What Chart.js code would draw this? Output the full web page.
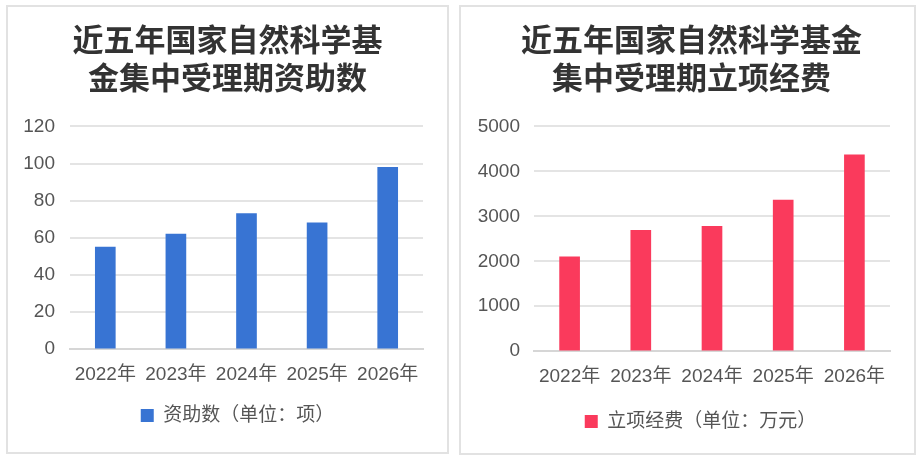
<!DOCTYPE html>
<html>
<head>
    <meta charset="utf-8">
    <title>国家自然科学基金集中受理期</title>
    <script src="https://cdn.jsdelivr.net/npm/chart.js"></script>
    <style>
        body, html {
            margin: 0;
            padding: 0;
            background: #fff;
            width: 924px;
            height: 462px;
            overflow: hidden;
        }

        .panel {
            position: absolute;
            top: 5px;
            border: 2px solid #e2e2e2;
            background: #fff;
        }

        #leftPanel { left: 6px; width: 439px; height: 445px; }
        #rightPanel { left: 459px; width: 453px; height: 446px; }
    </style>
</head>
<body>

<div class="panel" id="leftPanel"><canvas id="countChart"></canvas></div>
<div class="panel" id="rightPanel"><canvas id="fundChart"></canvas></div>

<script>
    // data
    const years = ['2022年', '2023年', '2024年', '2025年', '2026年'];
    const grantCounts = [55, 62, 73, 68, 98];
    const grantFunds = [2100, 2690, 2780, 3360, 4370];

    const countTitle = ['近五年国家自然科学基', '金集中受理期资助数'];
    const fundTitle = ['近五年国家自然科学基金', '集中受理期立项经费'];
    const countLabel = '资助数（单位：项）';
    const fundLabel = '立项经费（单位：万元）';

    const FONT = "'Liberation Sans', 'Noto Sans CJK SC', sans-serif";
    Chart.defaults.font.family = FONT;
    Chart.defaults.animation = false;

    // title and legend in the original are centred on the panel, not the plot
    const boxNudge = {
        id: 'boxNudge',
        afterLayout(chart, args, opts) {
            chart.titleBlock.left += opts.title;
            chart.titleBlock.right += opts.title;
            chart.legend.left += opts.legend;
            chart.legend.right += opts.legend;
        }
    };

    // lay: y axis width, y tick padding, x tick padding, legend padding, layout padding, nudges
    function barConfig(title, label, values, color, yMax, yStep, lay) {
        return {
            type: 'bar',
            data: {
                labels: years,
                datasets: [{
                    label: label,
                    data: values,
                    backgroundColor: color,
                    borderWidth: 0,
                    barThickness: 20
                }]
            },
            plugins: [boxNudge],
            options: {
                responsive: true,
                maintainAspectRatio: false,
                layout: { padding: lay.pad },
                plugins: {
                    title: {
                        display: true,
                        text: title,
                        color: '#333',
                        font: { size: 31, weight: 'bold', family: "'Noto Sans CJK SC', sans-serif", lineHeight: 1.2 },
                        padding: { top: 14, bottom: 31 }
                    },
                    legend: {
                        position: 'bottom',
                        labels: {
                            boxWidth: 13,
                            boxHeight: 13,
                            padding: lay.legendPad,
                            color: '#555',
                            font: { size: 19 }
                        }
                    },
                    boxNudge: lay.nudge,
                    tooltip: { enabled: false }
                },
                scales: {
                    x: {
                        grid: { display: false, drawTicks: false },
                        border: { color: '#d6d6d6', width: 2 },
                        ticks: { color: '#555', font: { size: 19 }, padding: lay.xPad, maxRotation: 0, autoSkip: false }
                    },
                    y: {
                        min: 0,
                        max: yMax,
                        afterFit: s => { s.width = lay.yWidth; },
                        ticks: {
                            stepSize: yStep,
                            color: '#555',
                            font: { size: 19 },
                            padding: lay.yPad,
                            callback: v => String(v)
                        },
                        grid: { color: '#e4e4e4', lineWidth: 2, drawTicks: false },
                        border: { display: false }
                    }
                }
            }
        };
    }

    new Chart(document.getElementById('countChart'),
        barConfig(countTitle, countLabel, grantCounts, '#3874d3', 120, 20,
            { yWidth: 62, yPad: 15, xPad: 14, legendPad: 6,
              pad: { left: 0, right: 24, bottom: 17 }, nudge: { title: 12, legend: 22 } }));

    new Chart(document.getElementById('fundChart'),
        barConfig(fundTitle, fundLabel, grantFunds, '#fa3a5c', 5000, 1000,
            { yWidth: 73, yPad: 14, xPad: 14, legendPad: 10,
              pad: { left: 0, right: 24, bottom: 12 }, nudge: { title: 16, legend: 25 } }));
</script>

</body>
</html>
